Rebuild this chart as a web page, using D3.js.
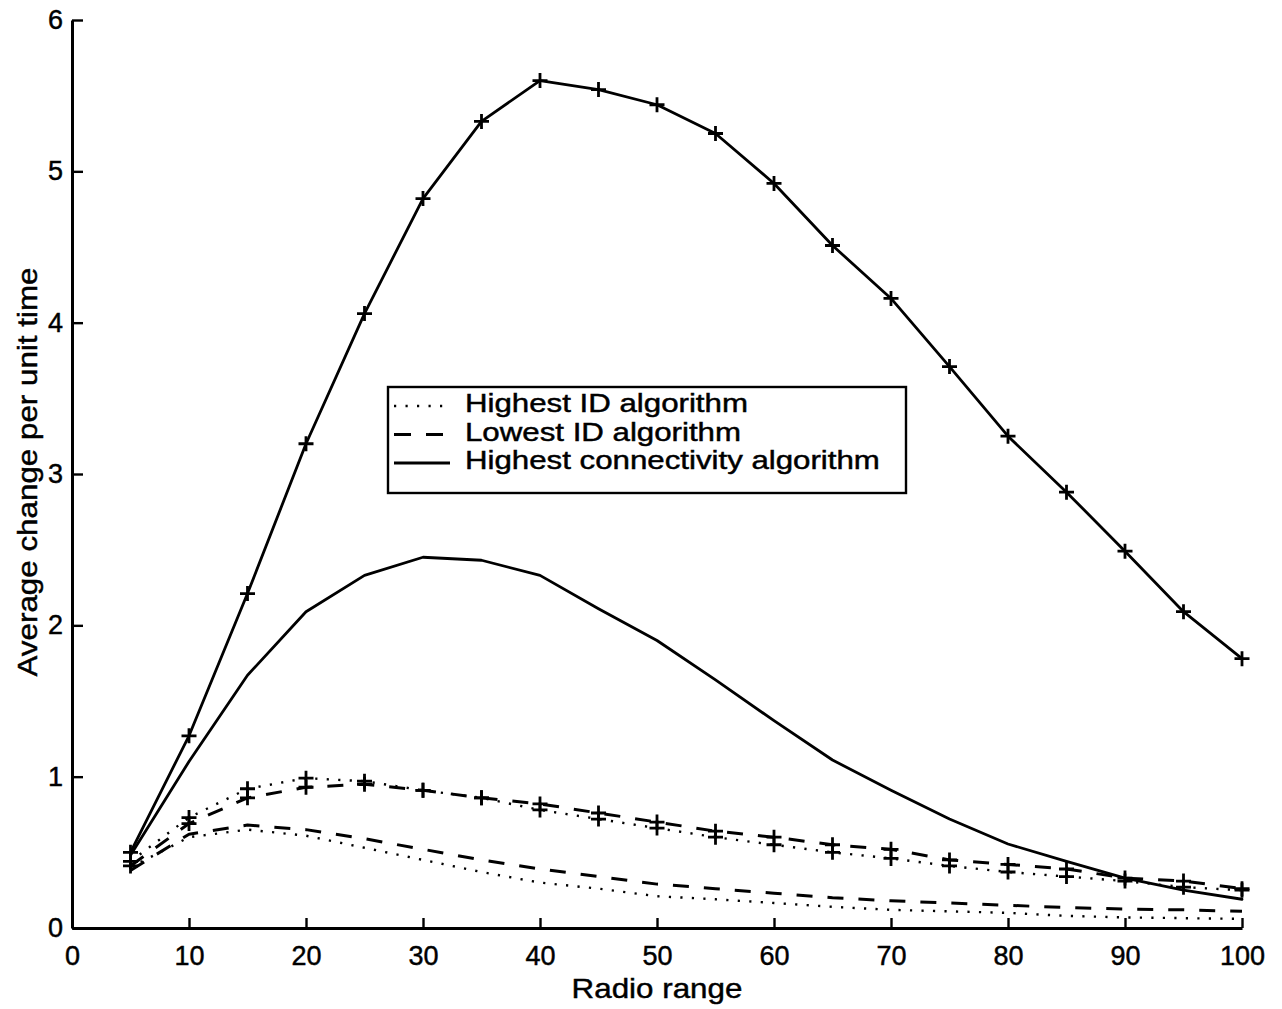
<!DOCTYPE html>
<html>
<head>
<meta charset="utf-8">
<script src="https://cdn.jsdelivr.net/npm/d3@7/dist/d3.min.js"></script>
<style>
  html, body { margin: 0; padding: 0; background: #fff; }
  svg { display: block; }
  text { font-family: "Liberation Sans", Arial, Helvetica, sans-serif; fill: #000; stroke: #000; stroke-width: 0.45px; }
</style>
</head>
<body>
<svg id="chart" width="1282" height="1009"></svg>
<script>
// Radio range values (x)
const radioRange = [5, 10, 15, 20, 25, 30, 35, 40, 45, 50, 55, 60, 65, 70, 75, 80, 85, 90, 95, 100];

// Series marked with "+"
const highestConnMarked = [0.50, 1.27, 2.21, 3.20, 4.06, 4.82, 5.33, 5.60, 5.54, 5.44, 5.25, 4.92, 4.51, 4.16, 3.71, 3.25, 2.88, 2.49, 2.09, 1.78];
const highestIdMarked   = [0.44, 0.73, 0.92, 0.99, 0.97, 0.91, 0.86, 0.78, 0.72, 0.66, 0.60, 0.55, 0.50, 0.46, 0.41, 0.37, 0.34, 0.31, 0.27, 0.25];
const lowestIdMarked    = [0.41, 0.69, 0.86, 0.93, 0.95, 0.91, 0.86, 0.82, 0.76, 0.70, 0.64, 0.60, 0.55, 0.52, 0.45, 0.42, 0.39, 0.33, 0.31, 0.26];

// Series without markers
const highestConnPlain = [0.48, 1.10, 1.67, 2.09, 2.33, 2.45, 2.43, 2.33, 2.11, 1.90, 1.64, 1.37, 1.11, 0.91, 0.72, 0.555, 0.44, 0.33, 0.25, 0.19];
const highestIdPlain   = [0.40, 0.60, 0.65, 0.61, 0.53, 0.45, 0.37, 0.30, 0.26, 0.21, 0.19, 0.165, 0.14, 0.12, 0.11, 0.10, 0.08, 0.07, 0.065, 0.06];
const lowestIdPlain    = [0.38, 0.62, 0.68, 0.65, 0.59, 0.52, 0.45, 0.39, 0.34, 0.29, 0.26, 0.23, 0.20, 0.18, 0.165, 0.15, 0.135, 0.125, 0.12, 0.11];

// Axis ticks
const xTicks = [0, 10, 20, 30, 40, 50, 60, 70, 80, 90, 100];
const yTicks = [0, 1, 2, 3, 4, 5, 6];

// Legend entries
const legendLabels = ["Highest ID algorithm", "Lowest ID algorithm", "Highest connectivity algorithm"];

const styles = {
  dotted: { dash: "2.2 9.3", cap: "butt", width: 2.4 },
  dashed: { dash: "16 15", cap: "butt", width: 3 },
  solid:  { dash: null, cap: "round", width: 2.8 }
};

const svg = d3.select("#chart");
const plotLeft = 72, plotRight = 1242, plotTop = 20, plotBottom = 928;
const textStretch = 1.12;

const x = d3.scaleLinear().domain([0, 100]).range([plotLeft, plotRight]);
const y = d3.scaleLinear().domain([0, 6]).range([plotBottom, plotTop]);

const line = d3.line().x(d => x(d[0])).y(d => y(d[1]));

function drawSeries(values, style, marked) {
  const pts = radioRange.map((r, i) => [r, values[i]]);
  const s = styles[style];
  svg.append("path")
    .attr("d", line(pts))
    .attr("fill", "none")
    .attr("stroke", "#000")
    .attr("stroke-width", s.width)
    .attr("stroke-linecap", s.cap)
    .attr("stroke-linejoin", "round")
    .attr("stroke-dasharray", s.dash);
  if (marked) {
    const h = 7.5;
    svg.append("g").selectAll("path")
      .data(pts)
      .join("path")
      .attr("d", d => {
        const cx = x(d[0]), cy = y(d[1]);
        return `M${cx - h},${cy}H${cx + h}M${cx},${cy - h}V${cy + h}`;
      })
      .attr("stroke", "#000")
      .attr("stroke-width", 2.8)
      .attr("fill", "none");
  }
}

drawSeries(highestIdPlain, "dotted", false);
drawSeries(lowestIdPlain, "dashed", false);
drawSeries(highestConnPlain, "solid", false);
drawSeries(highestIdMarked, "dotted", true);
drawSeries(lowestIdMarked, "dashed", true);
drawSeries(highestConnMarked, "solid", true);

// Axes: left and bottom only, ticks pointing inward
const xAxis = d3.axisBottom(x).tickValues(xTicks).tickFormat(d3.format("d"))
  .tickSizeInner(-10).tickSizeOuter(0).tickPadding(18);
const yAxis = d3.axisLeft(y).tickValues(yTicks).tickFormat(d3.format("d"))
  .tickSizeInner(-11).tickSizeOuter(0).tickPadding(9);

const gx = svg.append("g").attr("transform", `translate(0,${plotBottom})`).call(xAxis);
const gy = svg.append("g").attr("transform", `translate(${plotLeft},0)`).call(yAxis);

[gx, gy].forEach(g => {
  g.select(".domain").attr("stroke", "#000").attr("stroke-width", 3);
  g.selectAll(".tick line").attr("stroke", "#000").attr("stroke-width", 2.4);
  g.selectAll(".tick text")
    .style("font-family", "'Liberation Sans', Arial, sans-serif")
    .style("font-size", "27px")
    .attr("fill", "#000");
});

// Axis titles
svg.append("g")
  .attr("transform", `translate(${(plotLeft + plotRight) / 2},998) scale(${textStretch},1)`)
  .append("text")
  .attr("text-anchor", "middle")
  .style("font-size", "28px")
  .text("Radio range");

svg.append("g")
  .attr("transform", `translate(37,472) rotate(-90) scale(${textStretch},1)`)
  .append("text")
  .attr("text-anchor", "middle")
  .style("font-size", "28px")
  .text("Average change per unit time");

// Legend
const lg = svg.append("g").attr("transform", "translate(388,387)");
lg.append("rect")
  .attr("width", 518).attr("height", 106)
  .attr("fill", "#fff").attr("stroke", "#000").attr("stroke-width", 2.4);

const legendStyles = ["dotted", "dashed", "solid"];
legendLabels.forEach((label, i) => {
  const base = 25 + i * 28.5;
  const s = styles[legendStyles[i]];
  lg.append("line")
    .attr("x1", 6).attr("x2", 62)
    .attr("y1", base - 6).attr("y2", base - 6)
    .attr("stroke", "#000")
    .attr("stroke-width", s.width)
    .attr("stroke-linecap", "butt")
    .attr("stroke-dasharray", legendStyles[i] === "dashed" ? "17 15" : s.dash);
  lg.append("g")
    .attr("transform", `translate(77,${base}) scale(1.25,1)`)
    .append("text")
    .style("font-size", "25px")
    .text(label);
});
</script>
</body>
</html>
